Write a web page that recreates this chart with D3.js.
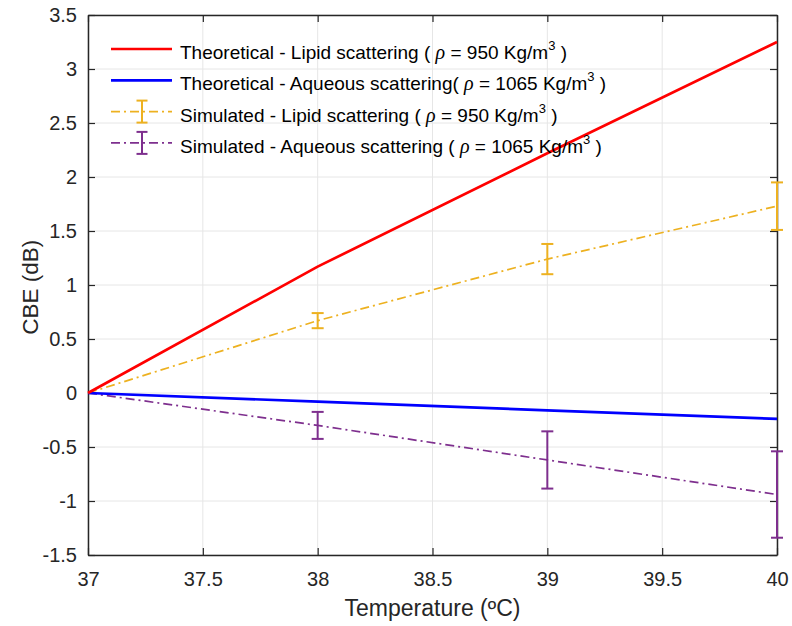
<!DOCTYPE html>
<html><head><meta charset="utf-8">
<script src="https://cdn.jsdelivr.net/npm/d3@7"></script>
<style>body{margin:0;background:#fff}svg{display:block;font-family:Arial,"Liberation Sans",sans-serif}</style>
</head><body><svg id="c" width="792" height="626"></svg>
<script>
const temps = [37, 38, 39, 40];
const theoLipid = [0, 1.17, 2.22, 3.25];
const theoAqueous = [0, -0.08, -0.16, -0.24];
const simLipid = [0, 0.67, 1.24, 1.73];
const simLipidErr = [0, 0.07, 0.14, 0.22];
const simAqueous = [0, -0.30, -0.62, -0.94];
const simAqueousErr = [0, 0.125, 0.265, 0.40];
const xTicks = [37, 37.5, 38, 38.5, 39, 39.5, 40];
const yTicks = [-1.5, -1, -0.5, 0, 0.5, 1, 1.5, 2, 2.5, 3, 3.5];
const legendItems = [
  {pre: "Theoretical - Lipid scattering ( ", rho: "950", post: " )", color: "#FF0000", kind: "solid"},
  {pre: "Theoretical - Aqueous scattering( ", rho: "1065", post: " )", color: "#0000FF", kind: "solid"},
  {pre: "Simulated - Lipid scattering ( ", rho: "950", post: " )", color: "#EDB120", kind: "err"},
  {pre: "Simulated - Aqueous scattering ( ", rho: "1065", post: " )", color: "#7E2F8E", kind: "err"}
];

const L = 88, R = 777, T = 15, B = 555;
const FONT = "Arial, 'Liberation Sans', sans-serif";
const svg = d3.select("#c");
const x = d3.scaleLinear().domain([37, 40]).range([L, R]);
const y = d3.scaleLinear().domain([-1.5, 3.5]).range([B, T]);

// grid
const g = svg.append("g");
g.selectAll(".gx").data(xTicks).join("line")
  .attr("x1", d => x(d)).attr("x2", d => x(d)).attr("y1", T).attr("y2", B)
  .attr("stroke", "#e6e6e6").attr("stroke-width", 1);
g.selectAll(".gy").data(yTicks).join("line")
  .attr("y1", d => y(d)).attr("y2", d => y(d)).attr("x1", L).attr("x2", R)
  .attr("stroke", "#e6e6e6").attr("stroke-width", 1);

// axes
const fmt = d => String(d);
const ax = svg.append("g").attr("transform", `translate(0,${B})`)
  .call(d3.axisBottom(x).tickValues(xTicks).tickSize(-7).tickSizeOuter(0).tickPadding(17).tickFormat(fmt));
const axT = svg.append("g").attr("transform", `translate(0,${T})`)
  .call(d3.axisTop(x).tickValues(xTicks).tickSize(-7).tickSizeOuter(0).tickFormat(""));
const ay = svg.append("g").attr("transform", `translate(${L},0)`)
  .call(d3.axisLeft(y).tickValues(yTicks).tickSize(-7).tickSizeOuter(0).tickPadding(11).tickFormat(fmt));
const ayR = svg.append("g").attr("transform", `translate(${R},0)`)
  .call(d3.axisRight(y).tickValues(yTicks).tickSize(-7).tickSizeOuter(0).tickFormat(""));
[ax, axT, ay, ayR].forEach(a => {
  a.select(".domain").attr("stroke", "#262626").attr("stroke-width", 1.5);
  a.selectAll(".tick line").attr("stroke", "#262626").attr("stroke-width", 1.2);
  a.selectAll("text").attr("font-size", 20).attr("fill", "#262626").attr("font-family", FONT);
});

// data lines
const pts = vals => temps.map((t, i) => [t, vals[i]]);
const line = d3.line().x(d => x(d[0])).y(d => y(d[1]));
const plot = svg.append("g");
function errSeries(vals, errs, color) {
  plot.append("path").attr("d", line(pts(vals))).attr("fill", "none")
    .attr("stroke", color).attr("stroke-width", 1.7).attr("stroke-dasharray", "9,4,2,4");
  temps.forEach((t, i) => {
    if (errs[i] <= 0) return;
    const cx = x(t), y1 = y(vals[i] + errs[i]), y2 = y(vals[i] - errs[i]);
    plot.append("line").attr("x1", cx).attr("x2", cx).attr("y1", y1).attr("y2", y2).attr("stroke", color).attr("stroke-width", 2);
    [y1, y2].forEach(yy => plot.append("line").attr("x1", cx - 6).attr("x2", cx + 6).attr("y1", yy).attr("y2", yy).attr("stroke", color).attr("stroke-width", 2));
  });
}
errSeries(simLipid, simLipidErr, "#EDB120");
errSeries(simAqueous, simAqueousErr, "#7E2F8E");
plot.append("path").attr("d", line(pts(theoAqueous))).attr("fill", "none").attr("stroke", "#0000FF").attr("stroke-width", 2.7);
plot.append("path").attr("d", line(pts(theoLipid))).attr("fill", "none").attr("stroke", "#FF0000").attr("stroke-width", 2.7);

// legend
const lg = svg.append("g");
legendItems.forEach((it, i) => {
  const yy = 49 + i * 31.3;
  if (it.kind === "solid") {
    lg.append("line").attr("x1", 111).attr("x2", 172).attr("y1", yy).attr("y2", yy).attr("stroke", it.color).attr("stroke-width", 2.7);
  } else {
    lg.append("line").attr("x1", 111).attr("x2", 172).attr("y1", yy).attr("y2", yy).attr("stroke", it.color).attr("stroke-width", 1.7).attr("stroke-dasharray", "9,4,2,4");
    lg.append("line").attr("x1", 142).attr("x2", 142).attr("y1", yy - 11).attr("y2", yy + 11).attr("stroke", it.color).attr("stroke-width", 2);
    [yy - 11, yy + 11].forEach(v => lg.append("line").attr("x1", 136.5).attr("x2", 147.5).attr("y1", v).attr("y2", v).attr("stroke", it.color).attr("stroke-width", 2));
  }
  const t = lg.append("text").attr("x", 180).attr("y", yy + 10).attr("font-size", 19).attr("fill", "#000").attr("font-family", FONT);
  t.append("tspan").text(it.pre);
  t.append("tspan").attr("font-style", "italic").attr("font-family", "'Times New Roman','Liberation Serif',serif").attr("font-size", 20).text("ρ");
  t.append("tspan").text(" = " + it.rho + " Kg/m");
  t.append("tspan").attr("font-size", 13).attr("dy", -9).text("3");
  t.append("tspan").attr("dy", 9).text(" )");
});

// axis labels
svg.append("text").attr("x", x(38.5)).attr("y", 616).attr("text-anchor", "middle").attr("font-size", 23).attr("fill", "#262626").attr("font-family", FONT).text("Temperature (ºC)");
svg.append("text").attr("transform", `translate(38,${y(0.98)}) rotate(-90)`).attr("text-anchor", "middle").attr("font-size", 22.5).attr("fill", "#262626").attr("font-family", FONT).text("CBE (dB)");
</script></body></html>
